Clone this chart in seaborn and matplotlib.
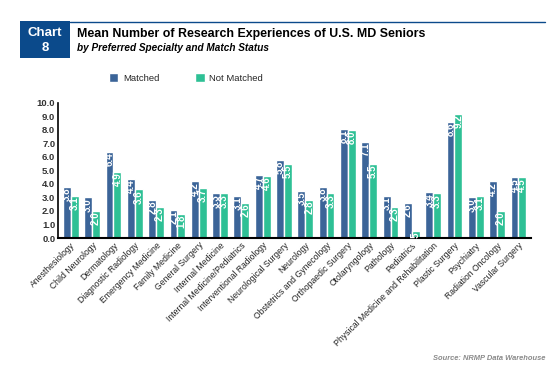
import seaborn as sns
import matplotlib.pyplot as plt
import pandas as pd
from matplotlib.patches import Rectangle
from matplotlib.lines import Line2D

specialties = [
    "Anesthesiology", "Child Neurology", "Dermatology", "Diagnostic Radiology",
    "Emergency Medicine", "Family Medicine", "General Surgery", "Internal Medicine",
    "Internal Medicine/Pediatrics", "Interventional Radiology", "Neurological Surgery",
    "Neurology", "Obstetrics and Gynecology", "Orthopaedic Surgery", "Otolaryngology",
    "Pathology", "Pediatrics", "Physical Medicine and Rehabilitation", "Plastic Surgery",
    "Psychiatry", "Radiation Oncology", "Vascular Surgery",
]
matched = [3.8, 3.0, 6.4, 4.4, 2.8, 2.1, 4.2, 3.3, 3.1, 4.7, 5.8,
           3.5, 3.8, 8.1, 7.1, 3.1, 2.6, 3.4, 8.6, 3.0, 4.2, 4.5]
not_matched = [3.1, 2.0, 4.9, 3.6, 2.3, 1.8, 3.7, 3.3, 2.6, 4.6, 5.5,
               2.8, 3.3, 8.0, 5.5, 2.3, 0.5, 3.3, 9.2, 3.1, 2.0, 4.5]
groups = ["Matched", "Not Matched"]
colors = ["#3B6498", "#2EC095"]

df = pd.DataFrame({
    "specialty": specialties * 2,
    "status": [groups[0]] * len(specialties) + [groups[1]] * len(specialties),
    "mean": matched + not_matched,
})

sns.set_style("white")
plt.rcParams["font.family"] = ["Liberation Sans", "DejaVu Sans"]

fig = plt.figure(figsize=(5.58, 3.69), dpi=100)
ax = fig.add_axes([0.104, 0.355, 0.848, 0.366])

sns.barplot(data=df, x="specialty", y="mean", hue="status", palette=colors,
            width=0.74, saturation=1, legend=False, ax=ax)

# value labels inside the bar tops, rotated
for cont in ax.containers:
    for bar in cont:
        h = bar.get_height()
        ax.text(bar.get_x() + bar.get_width() / 2, h - 0.05, f"{h:.1f}",
                rotation=90, ha="center", va="top", color="white",
                fontsize=7, fontweight="bold")

ax.set_ylim(0, 10)
ax.set_yticks([i for i in range(11)])
ax.set_yticklabels([f"{i:.1f}" for i in range(11)], fontsize=6.8, fontweight="bold", color="#333333")
ax.set_xlim(-0.6, len(specialties) - 0.4)
ax.set_xticks(range(len(specialties)))
ax.set_xticklabels(specialties, rotation=45, ha="right", rotation_mode="anchor",
                   fontsize=6.2, color="#222222")
ax.tick_params(axis="both", length=0, pad=2)
ax.set_xlabel("")
ax.set_ylabel("")
for s in ["top", "right"]:
    ax.spines[s].set_visible(False)
ax.spines["left"].set_color("black")
ax.spines["left"].set_linewidth(1.2)
ax.spines["bottom"].set_color("black")
ax.spines["bottom"].set_linewidth(1.5)

# header
fig.patches.append(Rectangle((20 / 558, 1 - 58 / 369), 50 / 558, 37 / 369,
                             transform=fig.transFigure, facecolor="#0B4A8B",
                             edgecolor="none"))
fig.add_artist(Line2D([70 / 558, 545 / 558], [1 - 21.5 / 369] * 2,
                      transform=fig.transFigure, color="#0B4A8B", lw=1))
fig.text(45 / 558, 1 - 33 / 369, "Chart", color="white", fontsize=9.5,
         fontweight="bold", ha="center", va="center")
fig.text(45 / 558, 1 - 48 / 369, "8", color="white", fontsize=9.5,
         fontweight="bold", ha="center", va="center")
fig.text(77 / 558, 1 - 33.5 / 369, "Mean Number of Research Experiences of U.S. MD Seniors",
         fontsize=8.95, fontweight="bold", ha="left", va="center", color="black")
fig.text(77 / 558, 1 - 48 / 369, "by Preferred Specialty and Match Status",
         fontsize=7.2, fontweight="bold", style="italic", ha="left", va="center",
         color="black")

# legend
handles = [Rectangle((0, 0), 1, 1, facecolor=c) for c in colors]
fig.legend(handles, groups, loc="center", bbox_to_anchor=(186 / 558, 1 - 78 / 369),
           ncol=2, frameon=False, fontsize=6.8, handlelength=1.0, handleheight=1.0,
           columnspacing=3.8, handletextpad=0.5)

fig.text(545 / 558, 1 - 359 / 369, "Source: NRMP Data Warehouse", fontsize=5.4,
         fontweight="bold", style="italic", color="#8A8A8A", ha="right", va="center")

plt.savefig("out.png", dpi=100)
